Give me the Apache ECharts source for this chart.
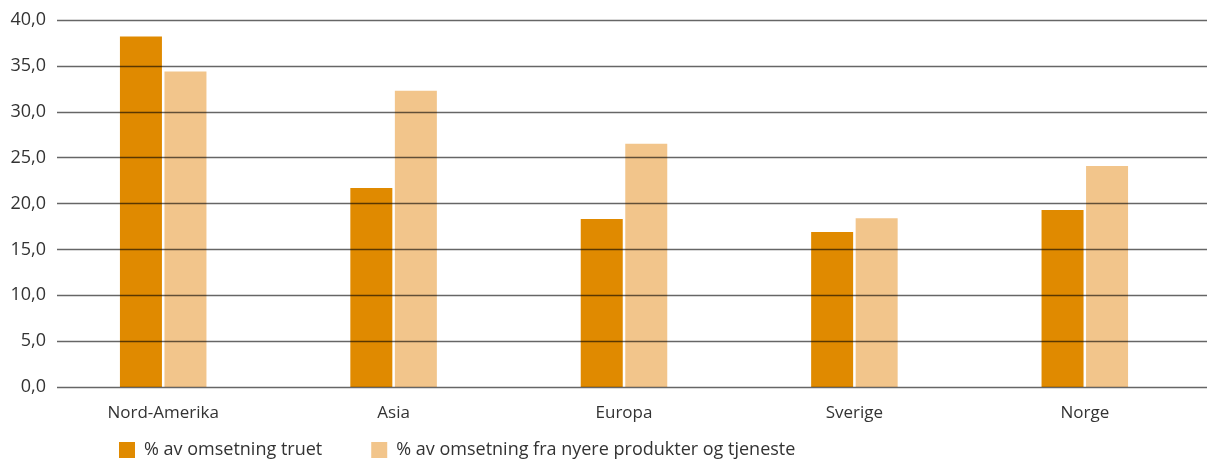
<!DOCTYPE html>
<html><head><meta charset="utf-8">
<script src="https://cdn.jsdelivr.net/npm/echarts@6/dist/echarts.min.js"></script>
<style>html,body{margin:0;padding:0;background:#fff}#c{width:1211px;height:462px}</style>
</head><body><div id="c"></div>
<script>
const categories = ['Nord-Amerika', 'Asia', 'Europa', 'Sverige', 'Norge'];
const seriesNames = ['% av omsetning truet', '% av omsetning fra nyere produkter og tjeneste'];
const truet = [38.2, 21.7, 18.3, 16.9, 19.3];
const nyere = [34.4, 32.3, 26.5, 18.4, 24.1];
const colors = ['#e08a00', '#f2c58b'];
const font = '"Open Sans", sans-serif';

const chart = echarts.init(document.getElementById('c'));
chart.setOption({
  animation: false,
  color: colors,
  textStyle: { fontFamily: font },
  grid: [
    { left: 48, right: 11, top: 20, bottom: 75, containLabel: false },
    { left: 57, right: 4, top: 20, bottom: 75, containLabel: false }
  ],
  legend: {
    top: 441, left: 119, padding: 0,
    itemWidth: 16, itemHeight: 16, itemGap: 49,
    icon: 'rect',
    textStyle: { fontFamily: font, fontSize: 18, color: '#333', padding: [0, 0, 0, 4] },
    data: seriesNames
  },
  xAxis: [
    { type: 'category', gridIndex: 0, data: categories,
      axisLine: { show: false }, axisTick: { show: false },
      axisLabel: { color: '#333', fontSize: 17, fontFamily: font, margin: 18 } },
    { type: 'value', gridIndex: 1, show: false, min: 0, max: 1 }
  ],
  yAxis: [
    { type: 'value', gridIndex: 0, min: 0, max: 40, interval: 5, show: false },
    { type: 'value', gridIndex: 1, min: 0, max: 40, interval: 5, z: 10,
      axisLine: { show: false }, axisTick: { show: false },
      axisLabel: { color: '#333', fontSize: 18, fontFamily: font, margin: 11,
        formatter: v => v.toFixed(1).replace('.', ',') },
      splitLine: { lineStyle: { color: 'rgba(0,0,0,0.6)', width: 1.3 } } }
  ],
  series: [
    { name: seriesNames[0], type: 'bar', xAxisIndex: 0, yAxisIndex: 0,
      data: truet, barWidth: 42, barGap: '6%', itemStyle: { color: colors[0] } },
    { name: seriesNames[1], type: 'bar', xAxisIndex: 0, yAxisIndex: 0,
      data: nyere, barWidth: 42, barGap: '6%', itemStyle: { color: colors[1] } }
  ]
});
</script></body></html>
